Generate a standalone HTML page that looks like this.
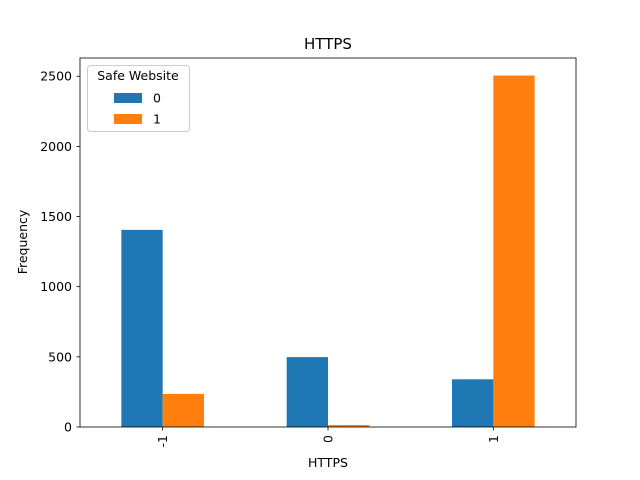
<!DOCTYPE html>
<html><head><meta charset="utf-8"><style>body{margin:0;background:#fff}svg{display:block;font-family:"DejaVu Sans","Liberation Sans",sans-serif}</style></head>
<body>
<svg id="chart" width="640" height="480">
<rect width="640" height="480" fill="#fff"/>
<g id="marks"></g>
<g id="axes"></g>
</svg>
<script>
const categories = ["-1", "0", "1"];
const series0 = [1405, 498, 340];
const series1 = [236, 14, 2505];
const yTicks = [0, 500, 1000, 1500, 2000, 2500];
const seriesNames = ["0", "1"];

const L = 80, R = 576, T = 58, B = 427;
const yMax = 2630;
const y = v => B - v * (B - T) / yMax;
const xc = i => L + (i + 0.5) * (R - L) / categories.length;
const bw = 0.25 * (R - L) / categories.length;
const ns = "http://www.w3.org/2000/svg";
const marks = document.getElementById("marks");
const axes = document.getElementById("axes");
function mk(tag, attrs, parent, text) {
  const e = document.createElementNS(ns, tag);
  for (const k in attrs) e.setAttribute(k, attrs[k]);
  if (text !== undefined) e.textContent = text;
  parent.appendChild(e);
  return e;
}
const colors = ["#1f77b4", "#ff7f0e"];
[series0, series1].forEach((s, si) => {
  s.forEach((v, i) => {
    const x0 = xc(i) - bw + si * bw;
    const r = mk("rect", {x: x0, y: y(v), width: bw, height: B - y(v), fill: colors[si]}, marks);
    
    
  });
});
const frame = mk("rect", {x: L, y: T, width: R - L, height: B - T, fill: "none", stroke: "#000", "stroke-width": 0.8}, axes);


yTicks.forEach(t => {
  mk("line", {x1: L - 3.5, x2: L, y1: y(t), y2: y(t), stroke: "#000", "stroke-width": 0.8}, axes);
  const tx = mk("text", {x: L - 8, y: y(t) + 4.5, "text-anchor": "end", "font-size": 12.5}, axes, String(t));
  
  
});
categories.forEach((c, i) => {
  mk("line", {x1: xc(i), x2: xc(i), y1: B, y2: B + 3.5, stroke: "#000", "stroke-width": 0.8}, axes);
  const tx = mk("text", {x: 0, y: 0, "text-anchor": "end", "font-size": 12.5, transform: `translate(${xc(i) + 4.5},${B + 8}) rotate(-90)`}, axes, c);
  
  
});
let t = mk("text", {x: 328, y: 49, "text-anchor": "middle", "font-size": 15}, axes, "HTTPS");


t = mk("text", {x: 328, y: 467, "text-anchor": "middle", "font-size": 12.5}, axes, "HTTPS");


t = mk("text", {x: 0, y: 0, "text-anchor": "middle", "font-size": 12.5, transform: "translate(27,242) rotate(-90)"}, axes, "Frequency");


const lg = mk("g", {}, axes);


mk("rect", {x: 87.5, y: 65.5, width: 102, height: 66, rx: 3, fill: "#fff", stroke: "#ccc", "stroke-width": 1}, lg);
mk("text", {x: 138, y: 80, "text-anchor": "middle", "font-size": 12.5}, lg, "Safe Website");
seriesNames.forEach((n, i) => {
  const e = mk("rect", {x: 114, y: 93 + i * 21, width: 28, height: 10, fill: colors[i]}, lg);
  
  
  mk("text", {x: 153, y: 102.5 + i * 21, "font-size": 12.5}, lg, n);
});
</script>
</body></html>
